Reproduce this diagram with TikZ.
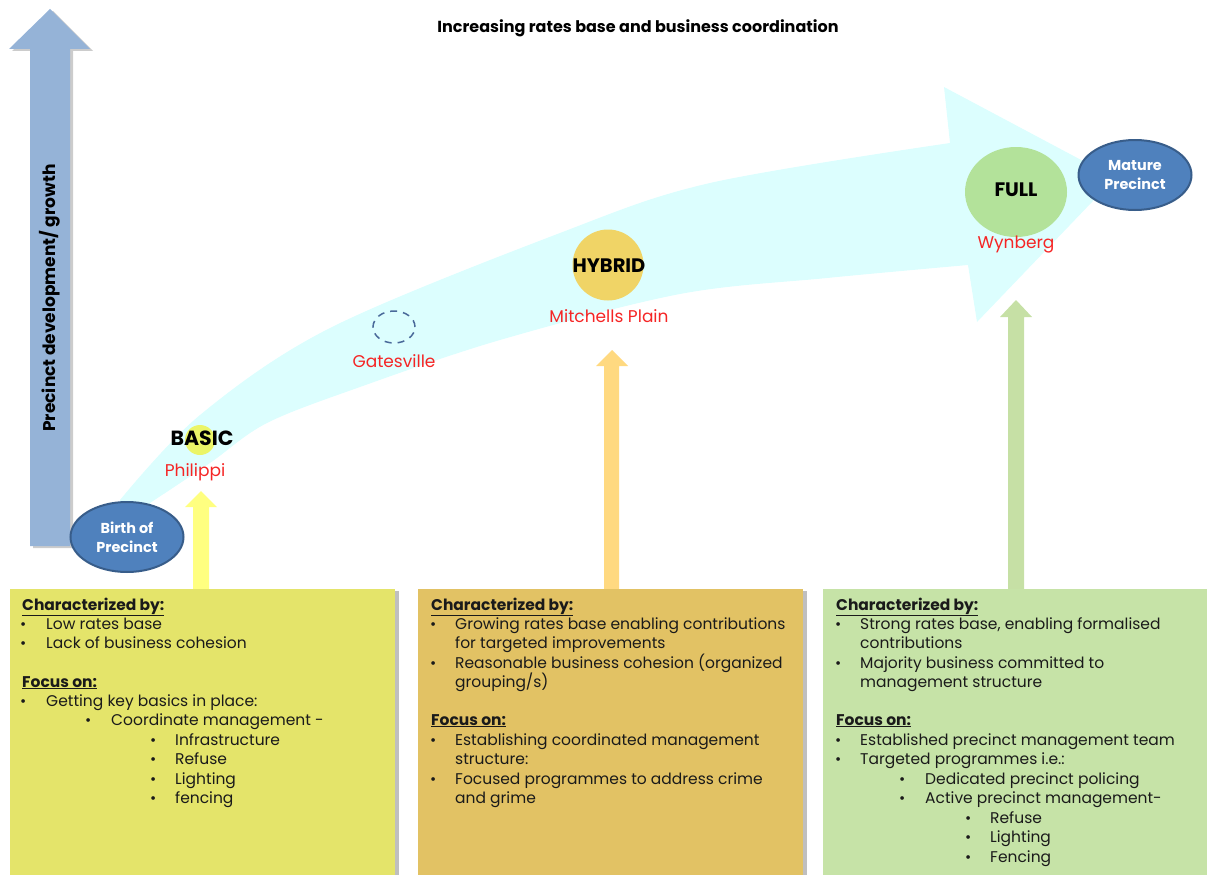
\documentclass[tikz,border=0pt]{standalone}
\usepackage{fontspec}
\setmainfont{Poppins}
\usetikzlibrary{shapes.geometric,shadows}
\definecolor{bandc}{HTML}{DCFEFE}
\definecolor{bluearr}{HTML}{95B3D7}
\definecolor{ellfill}{HTML}{4F81BD}
\definecolor{elldraw}{HTML}{385D8A}
\definecolor{basicc}{HTML}{EBF567}
\definecolor{hybridc}{HTML}{F0D466}
\definecolor{fullc}{HTML}{B3E29A}
\definecolor{boxa}{HTML}{E4E46A}
\definecolor{boxb}{HTML}{E2C264}
\definecolor{boxc}{HTML}{C6E3A7}
\definecolor{arra}{HTML}{FFFF80}
\definecolor{arrb}{HTML}{FFD980}
\definecolor{arrc}{HTML}{C6E0A5}
\definecolor{labred}{HTML}{F52525}
\definecolor{dashc}{HTML}{4A6A9A}
\definecolor{txtc}{HTML}{1A1A1A}
\newcommand{\fs}[2]{\fontsize{#1}{#2}\selectfont}
\newcommand{\hd}[4]{\node[txt] (#1) at (#2,#3) {\bfseries\underline{#4}};}
\newcommand{\bl}[6]{\node[txt] (#1b) at (#2,#4) {\fs{15}{16}\textbullet};\node[txt] (#1) at (#3,#5) {#6};}
\begin{document}
\begin{tikzpicture}[x=1pt,y=-1pt,
  txt/.style={anchor=base west,inner sep=0pt,text=txtc,font=\fs{15.5}{19.5}},
  ell/.style={ellipse,fill=ellfill,draw=elldraw,line width=2pt,text=white,align=center,font=\bfseries\fs{14.4}{19},inner sep=0pt},
  place/.style={text=labred,font=\fs{17}{20},inner sep=0pt},
  stage/.style={font=\bfseries\fs{19.5}{22},inner sep=0pt},
  boxsh/.style={drop shadow={shadow xshift=4pt,shadow yshift=-2pt,opacity=0.25,fill=black}}]
\useasboundingbox (0,0) rectangle (1207,875);
% title
\node[font=\bfseries\fs{16}{19},inner sep=0pt] (title) at (638,28) {Increasing rates base and business coordination};
% vertical arrow
\fill[bluearr,drop shadow={shadow xshift=3pt,shadow yshift=-2pt,opacity=0.2,fill=black}] (30,546) -- (30,49) -- (9,49) -- (50,9) -- (90,49) -- (70,49) -- (70,546) -- cycle;
\node[rotate=90,font=\bfseries\fs{17}{20},inner sep=0pt] (vlabel) at (50,298) {Precinct development/ growth};
% curved band arrow
\fill[bandc] (150,515) -- (122,515) -- plot[smooth,tension=0.55] coordinates {(120,500) (200,415) (330,328) (560,233) (710,183) (950,143)}
  -- (944,87) -- (1115,178) -- (977,322) --
  plot[smooth,tension=0.55] coordinates {(968,265) (827,278) (680,294) (500,340) (360,387) (267,423) (210,463) (150,503)} -- cycle;
% stage circles
\node[circle,fill=basicc,minimum size=30pt,inner sep=0pt] (basicdot) at (200,440) {};
\node[stage,font=\bfseries\fs{20.5}{22}] (basic) at (202,438) {BASIC};
\node[place] (philippi) at (195,472) {Philippi};
\node[ellipse,draw=dashc,line width=1.5pt,dash pattern=on 7pt off 6pt,minimum width=42pt,minimum height=32pt,inner sep=0pt] (gatedot) at (394,327) {};
\node[place] (gatesville) at (394,361) {Gatesville};
\node[circle,fill=hybridc,minimum size=71pt,inner sep=0pt] (hybriddot) at (608,265) {};
\node[stage] (hybrid) at (609,266) {HYBRID};
\node[place] (mitchells) at (609,316) {Mitchells Plain};
\node[ellipse,fill=fullc,minimum width=102pt,minimum height=90pt,inner sep=0pt] (fulldot) at (1016,192) {};
\node[stage] (full) at (1016,190) {FULL};
\node[place] (wynberg) at (1016,245) {Wynberg};
% end ellipses
\node[ell,minimum width=113pt,minimum height=70pt] (birth) at (127,537) {Birth of\\Precinct};
\node[ell,minimum width=113pt,minimum height=70pt] (mature) at (1135,175) {Mature\\Precinct};
% pointer arrows
\fill[arra] (193,592) -- (193,507) -- (185,507) -- (201,491) -- (217,507) -- (209,507) -- (209,592) -- cycle;
\fill[arrb] (604,592) -- (604,366) -- (596,366) -- (612,350) -- (628,366) -- (619,366) -- (619,592) -- cycle;
\fill[arrc] (1008,592) -- (1008,317) -- (1000,317) -- (1016,300) -- (1032,317) -- (1024,317) -- (1024,592) -- cycle;
% boxes
\fill[boxa,boxsh] (10,589) rectangle (395,880);
\fill[boxb,boxsh] (418,589) rectangle (803,880);
\fill[boxc,boxsh] (823,589) rectangle (1212,880);
% box 1 text
\hd{a0}{22}{610}{Characterized by:}
\bl{a1}{20}{46}{629}{629}{Low rates base}
\bl{a2}{20}{46}{648}{648}{Lack of business cohesion}
\hd{a3}{22}{687}{Focus on:}
\bl{a4}{20}{46}{706}{706}{Getting key basics in place:}
\bl{a5}{85}{111}{725}{725}{Coordinate management -}
\bl{a6}{150}{175}{745}{745}{Infrastructure}
\bl{a7}{150}{175}{764}{764}{Refuse}
\bl{a8}{150}{175}{784}{784}{Lighting}
\bl{a9}{150}{175}{803}{803}{fencing}
% box 2 text
\hd{b0}{431}{610}{Characterized by:}
\bl{b1}{430}{455}{629}{629}{Growing rates base enabling contributions}
\node[txt] (b1x) at (455,648) {for targeted improvements};
\bl{b2}{430}{455}{668}{668}{Reasonable business cohesion (organized}
\node[txt] (b2x) at (455,687) {grouping/s)};
\hd{b3}{431}{725}{Focus on:}
\bl{b4}{430}{455}{745}{745}{Establishing coordinated management}
\node[txt] (b4x) at (455,764) {structure:};
\bl{b5}{430}{455}{784}{784}{Focused programmes to address crime}
\node[txt] (b5x) at (455,803) {and grime};
% box 3 text
\hd{c0}{836}{610}{Characterized by:}
\bl{c1}{835}{860}{629}{629}{Strong rates base, enabling formalised}
\node[txt] (c1x) at (860,648) {contributions};
\bl{c2}{835}{860}{668}{668}{Majority business committed to}
\node[txt] (c2x) at (860,687) {management structure};
\hd{c3}{836}{725}{Focus on:}
\bl{c4}{835}{860}{745}{745}{Established precinct management team}
\bl{c5}{835}{860}{764}{764}{Targeted programmes i.e.:}
\bl{c6}{899}{925}{784}{784}{Dedicated precinct policing}
\bl{c7}{899}{925}{803}{803}{Active precinct management-}
\bl{c8}{965}{990}{823}{823}{Refuse}
\bl{c9}{965}{990}{842}{842}{Lighting}
\bl{c10}{965}{990}{862}{862}{Fencing}
\end{tikzpicture}
\end{document}
